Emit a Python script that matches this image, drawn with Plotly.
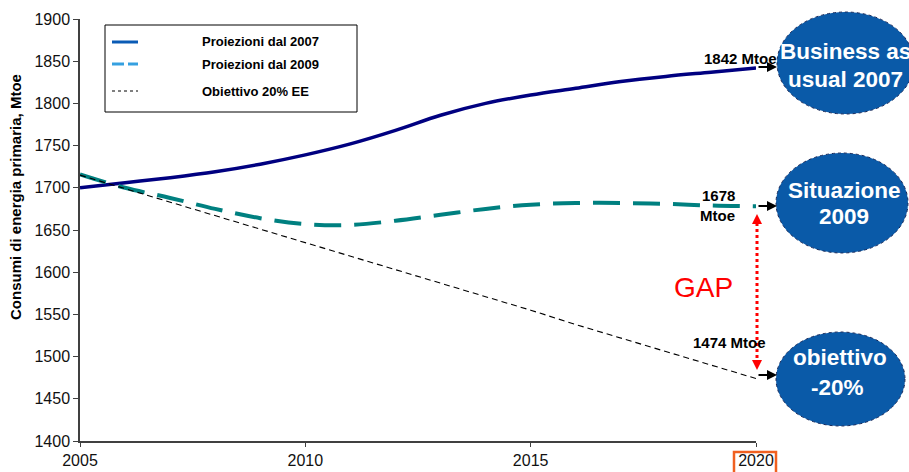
import plotly.graph_objects as go

years = list(range(2005, 2021))
proj_2007 = [1700, 1706, 1712, 1719, 1728, 1739, 1752, 1768, 1786, 1800, 1810, 1818, 1826, 1832, 1837, 1842]
proj_2009 = [1716, 1700, 1688, 1675, 1664, 1657, 1656, 1661, 1668, 1675, 1680, 1682, 1682, 1681, 1679, 1678]
target_20 = [1715, 1699, 1683, 1667, 1651, 1635, 1619, 1603, 1587, 1571, 1555, 1538, 1522, 1506, 1490, 1474]
x_ticks = [2005, 2010, 2015, 2020]
y_ticks = list(range(1400, 1901, 50))
legend_names = ["Proiezioni dal 2007", "Proiezioni dal 2009", "Obiettivo 20% EE"]

FONT = "Arial, Liberation Sans, sans-serif"
W, H = 909, 472
L, R, T, B = 80, 756, 19, 441


def px(x):
    return (x - L) / (R - L)


def py(y):
    return (B - y) / (B - T)


fig = go.Figure()
fig.add_trace(go.Scatter(x=years, y=proj_2007, mode="lines", name=legend_names[0],
                         line=dict(color="#000080", width=3.5, shape="spline"), showlegend=False))
fig.add_trace(go.Scatter(x=years, y=proj_2009, mode="lines", name=legend_names[1],
                         line=dict(color="#008080", width=4, dash="27px,13px", shape="spline"), showlegend=False))
fig.add_trace(go.Scatter(x=years, y=target_20, mode="lines", name=legend_names[2],
                         line=dict(color="#000000", width=1.1, dash="6px,4px"), showlegend=False))

shapes = []
annotations = []

# legend box
shapes.append(dict(type="rect", xref="paper", yref="paper", x0=px(105), x1=px(357), y0=py(112), y1=py(25),
                   line=dict(color="#000000", width=1), fillcolor="white", layer="below"))
shapes.append(dict(type="line", xref="paper", yref="paper", x0=px(112), x1=px(138), y0=py(42), y1=py(42),
                   line=dict(color="#0A5BB5", width=3)))
shapes.append(dict(type="line", xref="paper", yref="paper", x0=px(112), x1=px(124), y0=py(64), y1=py(64),
                   line=dict(color="#35A0E0", width=3)))
shapes.append(dict(type="line", xref="paper", yref="paper", x0=px(128), x1=px(138), y0=py(64), y1=py(64),
                   line=dict(color="#35A0E0", width=3)))
shapes.append(dict(type="line", xref="paper", yref="paper", x0=px(112), x1=px(138), y0=py(91), y1=py(91),
                   line=dict(color="#000000", width=1, dash="dot")))
for name, yy in zip(legend_names, [42, 64, 91]):
    annotations.append(dict(xref="paper", yref="paper", x=px(200), y=py(yy), text=name, showarrow=False,
                            xanchor="left", yanchor="middle",
                            font=dict(family=FONT, size=13, color="#000000", weight="bold")))

# ellipses
ell_fill = "#0A5AA8"
for (x0, x1, y0, y1) in [(777, 914, 12, 114), (776, 908, 153, 253), (776, 905, 332, 426)]:
    shapes.append(dict(type="circle", xref="paper", yref="paper", x0=px(x0), x1=px(x1), y0=py(y1), y1=py(y0),
                       fillcolor=ell_fill, line=dict(color="#1a2a5a", width=1, dash="dot"), layer="above"))

ell_texts = [("Business as", 845, 52), ("usual 2007", 845, 79),
             ("Situazione", 844, 190), ("2009", 844, 217),
             ("obiettivo", 840, 357), ("-20%", 837, 387)]
for t, xx, yy in ell_texts:
    annotations.append(dict(xref="paper", yref="paper", x=px(xx), y=py(yy), text=t, showarrow=False,
                            xanchor="center", yanchor="middle",
                            font=dict(family=FONT, size=22.5, color="white", weight="bold")))

# value labels
lab_font = dict(family=FONT, size=15, color="#000000", weight="bold")
annotations.append(dict(xref="paper", yref="paper", x=px(740), y=py(58), text=f"{proj_2007[-1]} Mtoe",
                        showarrow=False, xanchor="center", yanchor="middle", font=lab_font))
annotations.append(dict(xref="paper", yref="paper", x=px(718), y=py(196), text=f"{proj_2009[-1]}",
                        showarrow=False, xanchor="center", yanchor="middle", font=lab_font))
annotations.append(dict(xref="paper", yref="paper", x=px(717), y=py(215), text="Mtoe",
                        showarrow=False, xanchor="center", yanchor="middle", font=lab_font))
annotations.append(dict(xref="paper", yref="paper", x=px(729), y=py(342), text=f"{target_20[-1]} Mtoe",
                        showarrow=False, xanchor="center", yanchor="middle", font=lab_font))

# black arrows to ellipses
for yy in [67, 206, 375]:
    annotations.append(dict(xref="paper", yref="paper", x=px(777), y=py(yy), ax=-20, ay=0,
                            axref="pixel", ayref="pixel", text="", showarrow=True,
                            arrowhead=2, arrowsize=1, arrowwidth=2, arrowcolor="#000000"))

# red GAP arrow
shapes.append(dict(type="line", xref="paper", yref="paper", x0=px(757), x1=px(757), y0=py(364), y1=py(220),
                   line=dict(color="#FF0000", width=3, dash="dot")))
annotations.append(dict(xref="paper", yref="paper", x=px(757), y=py(214), ax=0, ay=8,
                        axref="pixel", ayref="pixel", text="", showarrow=True,
                        arrowhead=2, arrowsize=1, arrowwidth=2, arrowcolor="#FF0000"))
annotations.append(dict(xref="paper", yref="paper", x=px(757), y=py(370), ax=0, ay=-8,
                        axref="pixel", ayref="pixel", text="", showarrow=True,
                        arrowhead=2, arrowsize=1, arrowwidth=2, arrowcolor="#FF0000"))
annotations.append(dict(xref="paper", yref="paper", x=px(703), y=py(287), text="GAP", showarrow=False,
                        xanchor="center", yanchor="middle",
                        font=dict(family=FONT, size=28, color="#FF0000")))

# orange box around 2020
shapes.append(dict(type="rect", xref="paper", yref="paper", x0=px(734), x1=px(776), y0=py(474), y1=py(452),
                   line=dict(color="#F06020", width=2.5), fillcolor="rgba(0,0,0,0)"))

# y axis title
annotations.append(dict(xref="paper", yref="paper", x=px(15), y=py(197), text="Consumi di energia primaria, Mtoe",
                        showarrow=False, textangle=-90, xanchor="center", yanchor="middle",
                        font=dict(family=FONT, size=15, color="#000000", weight="bold")))

fig.update_layout(
    width=W, height=H,
    margin=dict(l=L, r=W - R, t=T, b=H - B, pad=0, autoexpand=False),
    paper_bgcolor="white", plot_bgcolor="white",
    showlegend=False,
    shapes=shapes, annotations=annotations,
    font=dict(family=FONT, color="#111111"),
    xaxis=dict(range=[2005, 2020], tickvals=x_ticks, ticktext=[str(v) for v in x_ticks], automargin=False,
               showgrid=False, zeroline=False, showline=True, linecolor="#404040", linewidth=1.5,
               ticks="outside", ticklen=4, tickcolor="#404040", tickfont=dict(size=16, color="#111111")),
    yaxis=dict(range=[1400, 1900], tickvals=y_ticks, showgrid=False, zeroline=False, showline=True,
               automargin=False,
               linecolor="#404040", linewidth=1.5, ticks="outside", ticklen=5, tickcolor="#404040",
               tickfont=dict(size=16, color="#111111")),
)

fig.write_html("out.html", config={"displayModeBar": False},
               post_script="document.body.style.margin='0px';document.body.style.overflow='hidden';")
